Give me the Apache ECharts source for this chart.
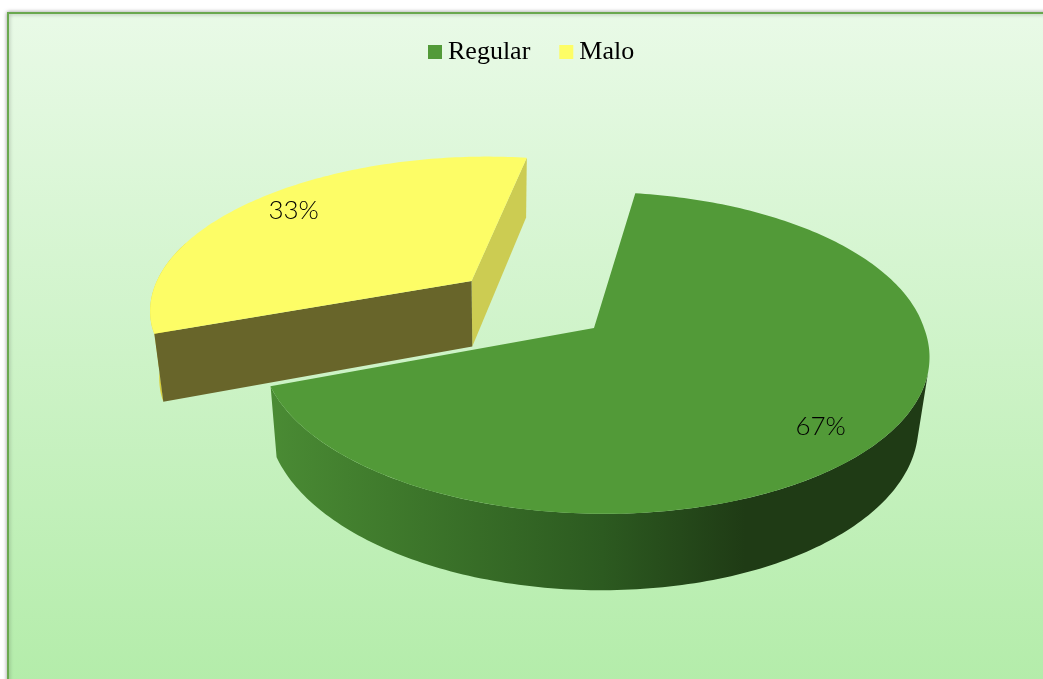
<!DOCTYPE html>
<html>
<head>
<meta charset="utf-8">
<title>Regular / Malo</title>
<script src="https://cdn.jsdelivr.net/npm/echarts@6/dist/echarts.min.js"></script>
<style>
    html, body { margin: 0; padding: 0; background: #fff; overflow: hidden; }
    #chart { width: 1043px; height: 679px; }
</style>
</head>
<body>
<div id="chart"></div>
<script>
const categories = ['Regular', 'Malo'];
const values = [67, 33];

const topColors = ['#529a38', '#fdfd66'];

// the pie lies on a plane seen in perspective
const apexX = 594, apexY = 328, radiusX = 330, radiusY = 157, tilt = 0.155;
const shear = 0.055;
const startAngle = -81.7;
const explode = [0, 0.5];
const labelRadius = 0.81;
const labelShiftX = [-4, -2];
const labelShiftY = [12, -3];
// where the visible outer wall stops, degrees
const wallFrom = [15, 159.3];
const wallTo = [159.3, 196];

const total = values.reduce((a, b) => a + b, 0);

function rad(deg) {
    return (deg * Math.PI) / 180;
}

function project(u, v) {
    const w = 1 - tilt * v;
    const y = apexY + (radiusY * v) / w;
    return [apexX + (radiusX * u) / w + shear * Math.max(0, y - apexY), y];
}

// same point on the bottom face of the pie
function drop(p) {
    const dy = 68 + 0.047 * (p[1] - 334);
    return [500 + (p[0] - 500) * 0.974, p[1] + dy];
}

function renderSlice(index, api) {
    const value = api.value(0);
    const before = values.slice(0, index).reduce((a, b) => a + b, 0);
    const a0 = startAngle + (before / total) * 360;
    const a1 = a0 + (value / total) * 360;
    const mid = rad((a0 + a1) / 2);
    const ox = explode[index] * Math.cos(mid);
    const oy = explode[index] * Math.sin(mid);

    const rimPoint = (deg) => project(ox + Math.cos(rad(deg)), oy + Math.sin(rad(deg)));
    const arc = (from, to) => {
        const pts = [];
        const n = Math.ceil(Math.abs(to - from));
        for (let i = 0; i <= n; i++) {
            pts.push(rimPoint(from + ((to - from) * i) / n));
        }
        return pts;
    };

    const apex = project(ox, oy);
    const topFace = [apex].concat(arc(a0, a1));
    const wallTop = arc(wallFrom[index], wallTo[index]);
    const wall = wallTop.concat(wallTop.map(drop).reverse());
    const children = [];

    if (index === 0) {
        children.push({
            type: 'polygon',
            shape: { points: wall },
            style: {
                fill: {
                    type: 'linear',
                    global: true,
                    x: 270,
                    y: 0,
                    x2: 745,
                    y2: 0,
                    colorStops: [
                        { offset: 0, color: '#4a8b34' },
                        { offset: 0.25, color: '#3f7a2c' },
                        { offset: 0.7, color: '#2c5a20' },
                        { offset: 1, color: '#1f3b15' },
                    ],
                },
            },
        });
    } else {
        const p0 = rimPoint(a0);
        const p1 = rimPoint(a1);
        children.push({
            type: 'polygon',
            shape: { points: wall },
            style: { fill: '#d8cf3e' },
        });
        children.push({
            type: 'polygon',
            shape: { points: [apex, p1, drop(p1), drop(apex)] },
            style: { fill: '#cccc52' },
        });
        children.push({
            type: 'polygon',
            shape: { points: [apex, p0, drop(p0), drop(apex)] },
            style: { fill: '#68652a' },
        });
    }

    children.push({
        type: 'polygon',
        shape: { points: topFace },
        style: { fill: topColors[index] },
    });

    const labelPos = project(
        ox + labelRadius * Math.cos(mid),
        oy + labelRadius * Math.sin(mid)
    );
    children.push({
        type: 'text',
        style: {
            text: Math.round((value / total) * 100) + '%',
            x: labelPos[0] + labelShiftX[index],
            y: labelPos[1] + labelShiftY[index],
            textAlign: 'center',
            textVerticalAlign: 'middle',
            fontFamily: 'Lato',
            fontWeight: 300,
            fontSize: 26,
            fill: '#000',
        },
    });

    return { type: 'group', children: children };
}

const option = {
    animation: false,
    graphic: [
        {
            type: 'rect',
            z: -1,
            shape: { x: 8, y: 13, width: 1060, height: 690 },
            style: {
                fill: {
                    type: 'linear',
                    x: 0,
                    y: 0,
                    x2: 0,
                    y2: 1,
                    colorStops: [
                        { offset: 0, color: '#e9faE7' },
                        { offset: 1, color: '#b2eca8' },
                    ],
                },
                stroke: '#6aa84f',
                lineWidth: 2,
                shadowBlur: 4,
                shadowColor: 'rgba(0,0,0,0.35)',
            },
        },
    ],
    legend: {
        data: categories,
        left: 428,
        top: 39,
        icon: 'rect',
        itemWidth: 14,
        itemHeight: 14,
        itemGap: 29,
        padding: 0,
        textStyle: {
            fontFamily: 'Liberation Serif',
            fontSize: 26,
            color: '#000',
            padding: [0, 0, 0, 1],
        },
    },
    series: categories.map((name, i) => ({
        type: 'custom',
        name: name,
        coordinateSystem: 'none',
        silent: true,
        itemStyle: { color: topColors[i] },
        data: [[values[i]]],
        renderItem: (params, api) => renderSlice(i, api),
    })),
};

const myChart = echarts.init(document.getElementById('chart'), null, { renderer: 'canvas' });
myChart.setOption(option);
</script>
</body>
</html>
